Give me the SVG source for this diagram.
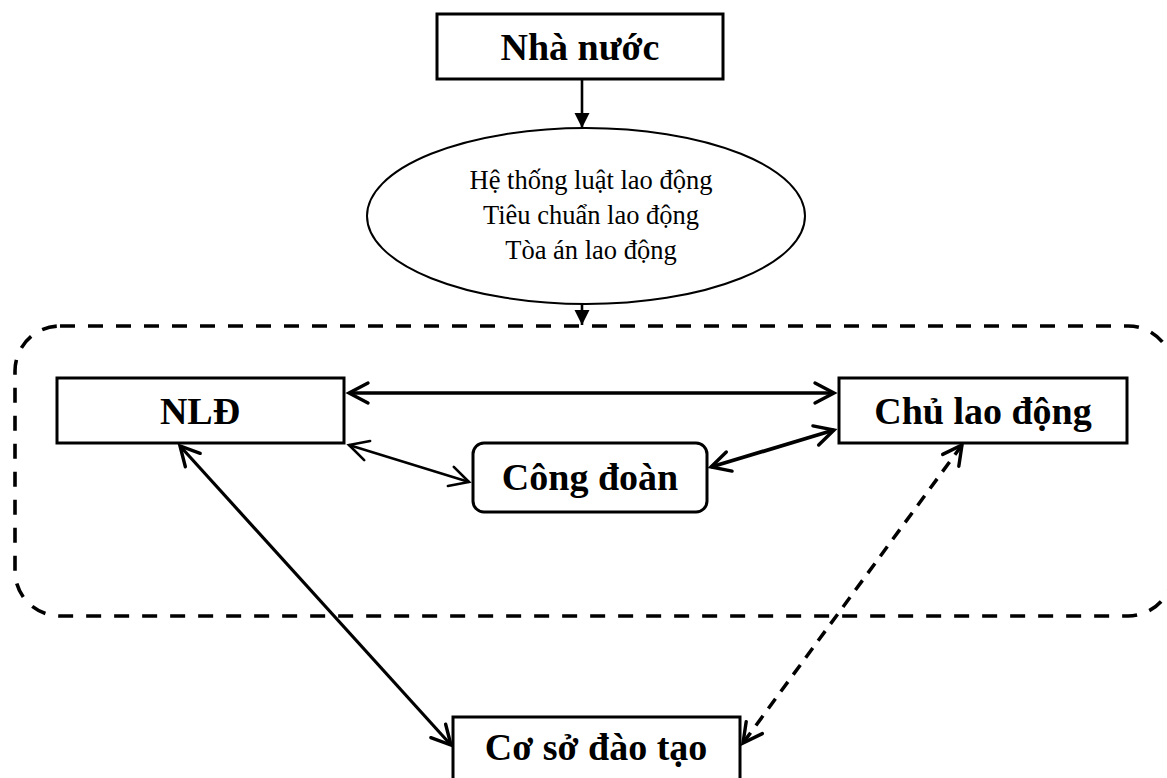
<svg xmlns="http://www.w3.org/2000/svg" width="1167" height="778" viewBox="0 0 1167 778">
<style>
.box{fill:#fff;stroke:#000;stroke-width:3}
.b{font-family:"Liberation Serif","Times New Roman",serif;font-weight:bold;font-size:38px;text-anchor:middle;fill:#000}
.r{font-family:"Liberation Serif","Times New Roman",serif;font-size:26.5px;text-anchor:middle;fill:#000}
.ln{fill:none;stroke:#000}
</style>
<defs>
<marker id="open" markerUnits="userSpaceOnUse" viewBox="-24 -14 28 28" markerWidth="28" markerHeight="28" refX="0" refY="0" orient="auto-start-reverse">
<path d="M-19,-10 L0,0 L-19,10" fill="none" stroke="#000" stroke-width="3.4" stroke-linecap="round" stroke-linejoin="miter"/>
</marker>
<marker id="openThin" markerUnits="userSpaceOnUse" viewBox="-24 -14 28 28" markerWidth="28" markerHeight="28" refX="0" refY="0" orient="auto-start-reverse">
<path d="M-19,-10 L0,0 L-19,10" fill="none" stroke="#000" stroke-width="2.6" stroke-linecap="round"/>
</marker>
<marker id="fill" markerUnits="userSpaceOnUse" viewBox="-16 -9 18 18" markerWidth="18" markerHeight="18" refX="0" refY="0" orient="auto">
<path d="M-15,-7.5 L0,0 L-15,7.5 Z" fill="#000"/>
</marker>
</defs>

<rect id="boundary" x="15" y="326" width="1158" height="290" rx="45" ry="45" fill="none" stroke="#000" stroke-width="3.6" stroke-dasharray="15 13"/>

<g id="connectors">
<line class="ln" x1="582" y1="79" x2="582" y2="128" stroke-width="2.6" marker-end="url(#fill)"/>
<line class="ln" x1="582" y1="303" x2="582" y2="325" stroke-width="2.6" marker-end="url(#fill)"/>
<line class="ln" x1="349" y1="393" x2="834" y2="393" stroke-width="3.4" marker-start="url(#open)" marker-end="url(#open)"/>
<line class="ln" x1="349" y1="445" x2="469" y2="482" stroke-width="2.4" marker-start="url(#openThin)" marker-end="url(#openThin)"/>
<line class="ln" x1="834" y1="430" x2="711" y2="467" stroke-width="3.8" marker-start="url(#open)" marker-end="url(#open)"/>
<line class="ln" x1="180" y1="446" x2="451" y2="745" stroke-width="3.2" marker-start="url(#open)" marker-end="url(#open)"/>
<line class="ln" x1="962" y1="445" x2="743" y2="743" stroke-width="3.5" stroke-dasharray="12 9" marker-start="url(#open)" marker-end="url(#open)"/>
</g>

<g id="nha-nuoc">
<rect class="box" x="437" y="14" width="286" height="65"/>
<text class="b" x="580" y="60">Nhà nước</text>
</g>

<g id="he-thong">
<ellipse cx="586" cy="216" rx="219" ry="88" fill="#fff" stroke="#000" stroke-width="2"/>
<text class="r" x="591" y="189">Hệ thống luật lao động</text>
<text class="r" x="591" y="224">Tiêu chuẩn lao động</text>
<text class="r" x="591" y="259">Tòa án lao động</text>
</g>

<g id="nld">
<rect class="box" x="57" y="378" width="287" height="65"/>
<text class="b" x="200" y="424">NLĐ</text>
</g>

<g id="chu-lao-dong">
<rect class="box" x="839" y="378" width="288" height="65"/>
<text class="b" x="983" y="424">Chủ lao động</text>
</g>

<g id="cong-doan">
<rect class="box" x="473" y="443" width="234" height="69" rx="11" ry="11"/>
<text class="b" x="590" y="490">Công đoàn</text>
</g>

<g id="co-so-dao-tao">
<rect class="box" x="453" y="717" width="287" height="80"/>
<text class="b" x="596" y="760">Cơ sở đào tạo</text>
</g>
</svg>
